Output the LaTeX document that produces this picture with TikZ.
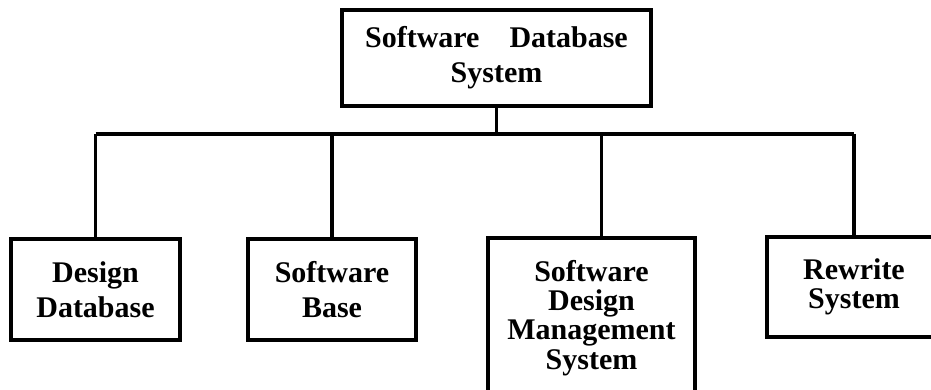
\documentclass[tikz,border=0pt]{standalone}
\usepackage{fontspec}
\setmainfont{Liberation Serif}
\usepackage{tikz}

\begin{document}
\begin{tikzpicture}[x=0.03cm, y=-0.03cm,
        unit/.style={draw, line width=3pt, inner sep=0pt, outer sep=0pt, align=center,
                     font=\fontsize{25.6}{30}\selectfont\bfseries},
        tight/.style={font=\fontsize{25.6}{25}\selectfont\bfseries},
        link/.style={line width=3pt}]
            \useasboundingbox (0,0) rectangle (931,389);
            \clip (0,0) rectangle (931,389);
            \node[unit, minimum width=9.27cm, minimum height=2.88cm]        (top)  at (496.5, 58.0) {Software\quad Database\\System};
            \node[unit, minimum width=5.07cm, minimum height=3.03cm]        (dd)   at ( 95.5,289.5) {Design\\Database};
            \node[unit, minimum width=5.04cm, minimum height=3.03cm]        (sb)   at (332.0,289.5) {Software\\Base};
            \node[unit, tight, minimum width=6.21cm, minimum height=4.80cm] (sdms) at (591.5,318.0) {Software\\Design\\Management\\System};
            \node[unit, tight, minimum width=5.22cm, minimum height=3.00cm] (rw)   at (854.0,287.0) {Rewrite\\System};
            \coordinate (bar)   at (496.5,134.0);
            \coordinate (sdmsin) at ([xshift=0.3cm]sdms.north);
        \draw[link] (top.south) -- (bar);
        \draw[link] (dd.north |- bar) -- (rw.north |- bar);
        \foreach \n in {dd,sb,sdmsin,rw}
            \draw[link] (\n |- bar) -- (\n.north);
        \end{tikzpicture}
\end{document}
